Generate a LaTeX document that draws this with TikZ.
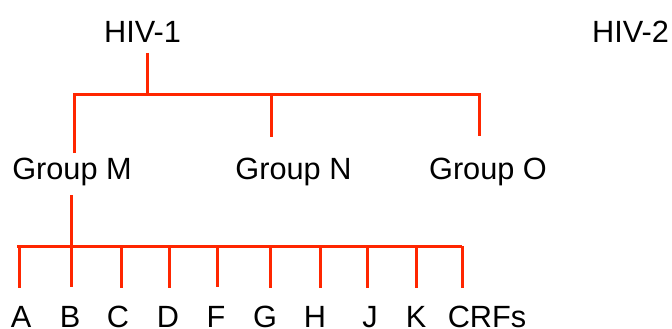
\documentclass[tikz,border=0pt]{standalone}
\usepackage{fontspec}
\setmainfont{Liberation Sans}
\definecolor{treered}{RGB}{255,38,0}
\begin{document}
\begin{tikzpicture}[x=1pt,y=-1pt,
		lbl/.style={anchor=base,inner sep=0pt,font=\fontsize{30.7}{36}\selectfont},
		branch/.style={draw=treered,line width=3pt}]
			\useasboundingbox (0,0) rectangle (672,329);
			\node[lbl] (hivone) at (142.5,43) {HIV-1};
			\node[lbl] (hivtwo) at (630.5,43) {HIV-2};
			\node[lbl] (grpm) at (72,179) {Group M};
			\node[lbl] (grpn) at (293.5,179) {Group N};
			\node[lbl] (grpo) at (488,179) {Group O};
			\node[lbl] (sa) at (21,327.5) {A};
			\node[lbl] (sb) at (70,327.5) {B};
			\node[lbl] (sc) at (118,327.5) {C};
			\node[lbl] (sd) at (168,327.5) {D};
			\node[lbl] (sf) at (216,327.5) {F};
			\node[lbl] (sg) at (265,327.5) {G};
			\node[lbl] (sh) at (315,327.5) {H};
			\node[lbl] (sj) at (370,327.5) {J};
			\node[lbl] (sk) at (416,327.5) {K};
			\node[lbl] (crf) at (487,327.5) {CRFs};
			\coordinate (a) at (147,53);
			\coordinate (b) at (147,94);
			\coordinate (c) at (74,94);
			\coordinate (d) at (74,153);
			\coordinate (e) at (271,94);
			\coordinate (f) at (271,137);
			\coordinate (g) at (479,94);
			\coordinate (h) at (479,136);
			\draw[branch] (a) to (b);
			\draw[branch] (d) to (c) to (g) to (h);
			\draw[branch] (e) to (f);
			\coordinate (m1) at (71,195);
			\coordinate (m2) at (71,246);
			\coordinate (l) at (17,246);
			\coordinate (r) at (462,246);
			\draw[branch] (m1) to (m2);
			\draw[branch] (l) to (r);
			\draw[branch] (19,246) to (19,288);
			\draw[branch] (71,246) to (71,287);
			\draw[branch] (121,246) to (121,288);
			\draw[branch] (169,246) to (169,288);
			\draw[branch] (217,246) to (217,287);
			\draw[branch] (270,246) to (270,288);
			\draw[branch] (320,246) to (320,288);
			\draw[branch] (367,246) to (367,288);
			\draw[branch] (416,246) to (416,288);
			\draw[branch] (462,246) to (462,288);
		\end{tikzpicture}
\end{document}
